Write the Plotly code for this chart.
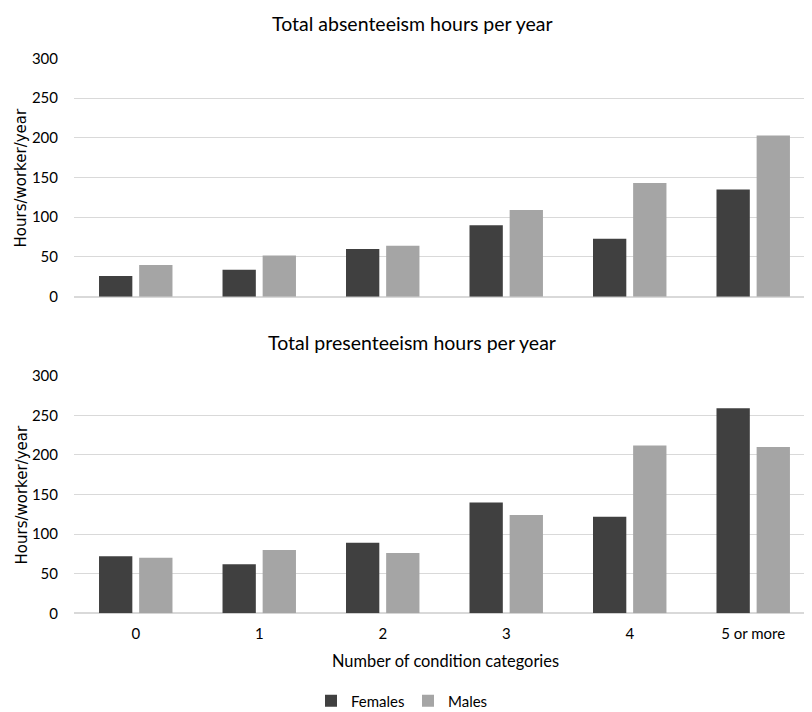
import plotly.graph_objects as go

# categories (number of condition categories)
categories = ["0", "1", "2", "3", "4", "5 or more"]

# absenteeism hours/worker/year
absent_females = [26, 34, 60, 90, 73, 135]
absent_males = [40, 52, 64, 109, 143, 203]

# presenteeism hours/worker/year
present_females = [72, 62, 89, 140, 122, 259]
present_males = [70, 80, 76, 124, 212, 210]

y_ticks = [0, 50, 100, 150, 200, 250, 300]

C_FEM = "#404040"
C_MAL = "#A5A5A5"
GRID = "#D9D9D9"
FONT = "Lato"

# la page html a une marge de 8px autour de la figure
OFF = 8
W, H = 812 - OFF, 712 - OFF


def px_x(x):
    # position horizontale de la page -> coordonnée paper
    return (x - OFF) / W


def px_y(y):
    # position verticale de la page -> coordonnée paper
    return (H - (y - OFF)) / H


fig = go.Figure()

# graphique du haut : absenteeism
fig.add_trace(go.Bar(x=categories, y=absent_females, name="Females", marker_color=C_FEM,
                     xaxis="x", yaxis="y", showlegend=True, legendgroup="f"))
fig.add_trace(go.Bar(x=categories, y=absent_males, name="Males", marker_color=C_MAL,
                     xaxis="x", yaxis="y", showlegend=True, legendgroup="m"))
# graphique du bas : presenteeism
fig.add_trace(go.Bar(x=categories, y=present_females, name="Females", marker_color=C_FEM,
                     xaxis="x2", yaxis="y2", showlegend=False, legendgroup="f"))
fig.add_trace(go.Bar(x=categories, y=present_males, name="Males", marker_color=C_MAL,
                     xaxis="x2", yaxis="y2", showlegend=False, legendgroup="m"))

x_dom = [px_x(74), 1.0]
top_dom = [px_y(296.7), px_y(58.3)]
bot_dom = [px_y(613.3), px_y(375.7)]
x_range = [-0.5, 5.476]

common_y = dict(range=[0, 300], tickvals=y_ticks, showgrid=True, gridcolor=GRID, gridwidth=1,
                zeroline=True, zerolinecolor=GRID, zerolinewidth=1.5, ticks="",
                ticklabelstandoff=15, tickfont=dict(family=FONT, size=15, color="#000000"),
                fixedrange=True, automargin=False)
common_x = dict(range=x_range, type="category", showgrid=False, zeroline=False, ticks="",
                showline=False, fixedrange=True, automargin=False)

fig.update_layout(
    template="none",
    width=W, height=H,
    margin=dict(l=0, r=0, t=0, b=0, autoexpand=False),
    paper_bgcolor="white", plot_bgcolor="white",
    barmode="group", bargap=0.35, bargroupgap=0.17,
    font=dict(family=FONT, size=15, color="#000000"),
    xaxis=dict(domain=x_dom, anchor="y", showticklabels=False, **common_x),
    yaxis=dict(domain=top_dom, anchor="x", **common_y),
    xaxis2=dict(domain=x_dom, anchor="y2", showticklabels=True, ticklabelstandoff=10,
                tickfont=dict(family=FONT, size=15, color="#000000"), **common_x),
    yaxis2=dict(domain=bot_dom, anchor="x2", **common_y),
    legend=dict(orientation="h", xref="container", yref="container",
                x=px_x(408), xanchor="center", y=px_y(701), yanchor="middle",
                font=dict(family=FONT, size=15), traceorder="normal",
                itemwidth=30, entrywidth=52, entrywidthmode="pixels",
                bgcolor="rgba(0,0,0,0)", borderwidth=0),
    showlegend=True,
)

annots = [
    dict(text="Total absenteeism hours per year", x=px_x(412), y=px_y(23), font=dict(size=19.5)),
    dict(text="Total presenteeism hours per year", x=px_x(412), y=px_y(342), font=dict(size=19.5)),
    dict(text="Number of condition categories", x=px_x(445), y=px_y(660), font=dict(size=16.4)),
    dict(text="Hours/worker/year", x=px_x(21), y=(top_dom[0] + top_dom[1]) / 2, textangle=-90,
         font=dict(family="DejaVu Sans", size=15)),
    dict(text="Hours/worker/year", x=px_x(21), y=(bot_dom[0] + bot_dom[1]) / 2, textangle=-90,
         font=dict(family="DejaVu Sans", size=15)),
]
for a in annots:
    fig.add_annotation(xref="paper", yref="paper", showarrow=False, xanchor="center",
                       yanchor="middle", **a)

fig.write_html("out.html")
